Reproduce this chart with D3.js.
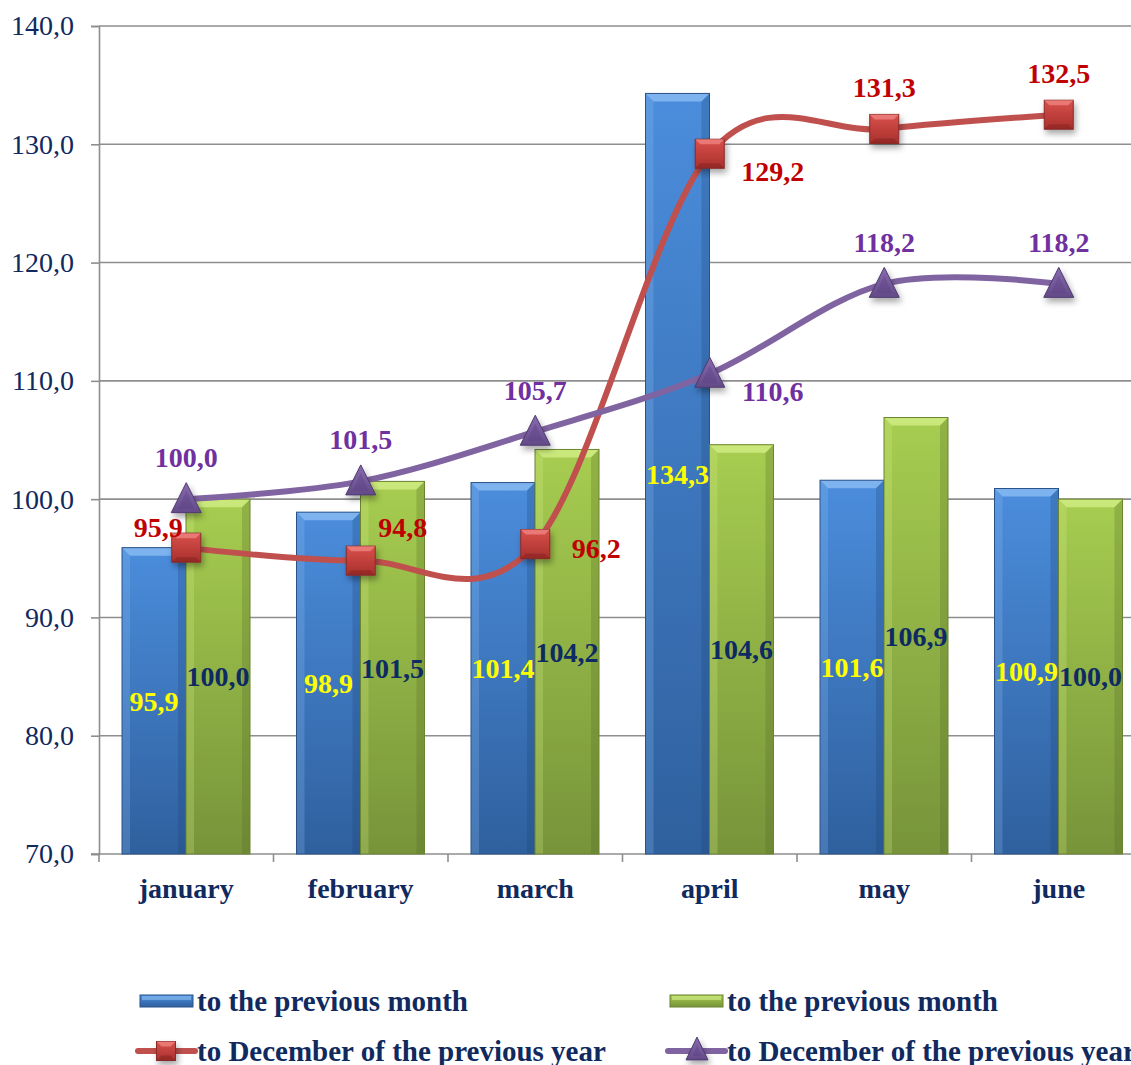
<!DOCTYPE html>
<html>
<head>
<meta charset="utf-8">
<script src="https://cdn.jsdelivr.net/npm/d3@7"></script>
<style>
  html, body { margin: 0; padding: 0; background: #fff; overflow: hidden; }
  svg { display: block; font-family: "Liberation Serif", "Times New Roman", serif; }
</style>
</head>
<body>
<div id="chart"></div>
<script>
// data
const months = ["january", "february", "march", "april", "may", "june"]
const blueMonth = [95.9, 98.9, 101.4, 134.3, 101.6, 100.9]
const greenMonth = [100.0, 101.5, 104.2, 104.6, 106.9, 100.0]
const redDec = [95.9, 94.8, 96.2, 129.2, 131.3, 132.5]
const purpleDec = [100.0, 101.5, 105.7, 110.6, 118.2, 118.2]
const yTicks = [70, 80, 90, 100, 110, 120, 130, 140]
const legendNames = ["to the previous month", "to the previous month",
    "to December of the previous year", "to December of the previous year"]
// where each line label sits relative to its marker
const redLabelPos = ["upleft", "upright", "right", "rightdown", "above", "above"]
const purpleLabelPos = ["above", "above", "above", "rightdown", "above", "above"]

const W = 1131, H = 1065
const navy = "#10295e"
const fmt = v => d3.format(".1f")(v).replace(".", ",")

const svg = d3.select("#chart").append("svg")
    .attr("width", W)
    .attr("height", H)

const defs = svg.append("defs")
const shadow = defs.append("filter").attr("id", "shadow")
    .attr("x", "-50%").attr("y", "-50%").attr("width", "200%").attr("height", "200%")
shadow.append("feDropShadow")
    .attr("dx", 2).attr("dy", 4).attr("stdDeviation", 3)
    .attr("flood-color", "#000").attr("flood-opacity", 0.35)

function vGrad(id, top, bottom) {
    const g = defs.append("linearGradient").attr("id", id)
        .attr("x1", 0).attr("y1", 0).attr("x2", 0).attr("y2", 1)
    g.append("stop").attr("offset", "0%").attr("stop-color", top)
    g.append("stop").attr("offset", "100%").attr("stop-color", bottom)
}
vGrad("gBlue", "#4b8ddc", "#2f609e")
vGrad("gGreen", "#a7cd50", "#77943a")
vGrad("gRed", "#d9504c", "#a8302d")
vGrad("gPurple", "#8a6bb0", "#634a88")

const x0 = d3.scaleBand().domain(months).range([99, 1146])
const x1 = d3.scaleBand().domain(["blue", "green"]).range([23, x0.bandwidth() - 23.5])
const y = d3.scaleLinear().domain([70, 140]).range([854, 26])

// gridlines
svg.append("g")
    .selectAll("line")
    .data(yTicks.slice(1))
    .enter()
    .append("line")
    .attr("x1", 99).attr("x2", W)
    .attr("y1", d => y(d)).attr("y2", d => y(d))
    .attr("stroke", "#8e8e8e").attr("stroke-width", 1.6)

// y axis
const yAxis = svg.append("g")
    .attr("transform", "translate(99,0)")
    .call(d3.axisLeft(y).tickValues(yTicks).tickSize(8).tickPadding(17).tickFormat(fmt))
yAxis.select(".domain").attr("stroke", "#8e8e8e").attr("stroke-width", 1.6)
yAxis.selectAll(".tick line").attr("stroke", "#8e8e8e").attr("stroke-width", 1.6)
yAxis.selectAll("text")
    .attr("fill", navy)
    .attr("font-size", 28)
    .attr("font-family", "Liberation Serif")

// x axis
const xAxis = svg.append("g")
    .attr("transform", "translate(0,854)")
xAxis.append("line")
    .attr("x1", 91).attr("x2", W)
    .attr("stroke", "#8e8e8e").attr("stroke-width", 1.6)
xAxis.selectAll(".sep")
    .data(months)
    .enter()
    .append("line")
    .attr("x1", d => x0(d)).attr("x2", d => x0(d))
    .attr("y1", 0).attr("y2", 8)
    .attr("stroke", "#8e8e8e").attr("stroke-width", 1.6)
xAxis.selectAll(".cat")
    .data(months)
    .enter()
    .append("text")
    .attr("x", d => x0(d) + x0.bandwidth() / 2)
    .attr("y", 44)
    .attr("text-anchor", "middle")
    .attr("fill", navy)
    .attr("font-size", 28)
    .attr("font-weight", "bold")
    .text(d => d)

// beveled bar
function bevelBar(g, x, yTop, w, h, fill, light, dark, edge) {
    const b = 8
    g.append("rect")
        .attr("x", x).attr("y", yTop).attr("width", w).attr("height", h)
        .attr("fill", fill)
    g.append("path")
        .attr("d", `M${x},${yTop}L${x + w},${yTop}L${x + w - b},${yTop + b}L${x + b},${yTop + b}Z`)
        .attr("fill", light).attr("opacity", 0.75)
    g.append("path")
        .attr("d", `M${x},${yTop}L${x + b},${yTop + b}L${x + b},${yTop + h}L${x},${yTop + h}Z`)
        .attr("fill", light).attr("opacity", 0.25)
    g.append("path")
        .attr("d", `M${x + w},${yTop}L${x + w - b},${yTop + b}L${x + w - b},${yTop + h}L${x + w},${yTop + h}Z`)
        .attr("fill", dark).attr("opacity", 0.25)
    g.append("rect")
        .attr("x", x).attr("y", yTop).attr("width", w).attr("height", h)
        .attr("fill", "none").attr("stroke", edge).attr("stroke-width", 1)
}

const barSeries = [
    { key: "blue", values: blueMonth, fill: "url(#gBlue)", light: "#8fc0f5", dark: "#1d3f70", edge: "#2a5288", label: "#ffff00" },
    { key: "green", values: greenMonth, fill: "url(#gGreen)", light: "#d6f08a", dark: "#4f6523", edge: "#6a8431", label: "#0d2a63" }
]

const barsG = svg.append("g")
barSeries.forEach(s => {
    months.forEach((m, i) => {
        const bx = x0(m) + x1(s.key)
        const yTop = y(s.values[i])
        bevelBar(barsG, bx, yTop, x1.bandwidth(), y(70) - yTop, s.fill, s.light, s.dark, s.edge)
    })
})

// bar labels at bar middle
barSeries.forEach(s => {
    svg.append("g")
        .selectAll("text")
        .data(s.values)
        .enter()
        .append("text")
        .attr("x", (d, i) => x0(months[i]) + x1(s.key) + x1.bandwidth() / 2)
        .attr("y", d => y((d + 70) / 2))
        .attr("dy", "0.35em")
        .attr("text-anchor", "middle")
        .attr("fill", s.label)
        .attr("font-size", 28)
        .attr("font-weight", "bold")
        .text(d => fmt(d))
})

// lines
const cx = i => x0(months[i]) + x0.bandwidth() / 2
const line = d3.line()
    .x((d, i) => cx(i))
    .y(d => y(d))
    .curve(d3.curveCardinal.tension(0))

function square(g, x, yy, s, fill, edge) {
    const h = s / 2, b = 5
    const m = g.append("g").attr("transform", `translate(${x},${yy})`).attr("filter", "url(#shadow)")
    m.append("rect").attr("x", -h).attr("y", -h).attr("width", s).attr("height", s)
        .attr("fill", fill).attr("stroke", edge).attr("stroke-width", 1)
    m.append("path").attr("d", `M${-h},${-h}L${h},${-h}L${h - b},${-h + b}L${-h + b},${-h + b}Z`)
        .attr("fill", "#f28c88").attr("opacity", 0.7)
    m.append("path").attr("d", `M${-h},${h}L${h},${h}L${h - b},${h - b}L${-h + b},${h - b}Z`)
        .attr("fill", "#7a1f1d").attr("opacity", 0.4)
}

function triangle(g, x, yy, s, fill, edge) {
    const h = s * 0.9
    const m = g.append("g").attr("transform", `translate(${x},${yy})`).attr("filter", "url(#shadow)")
    m.append("path").attr("d", `M0,${-h / 2 - 3}L${s / 2},${h / 2}L${-s / 2},${h / 2}Z`)
        .attr("fill", fill).attr("stroke", edge).attr("stroke-width", 1)
    m.append("path").attr("d", `M0,${-h / 2 + 5}L${s / 2 - 7},${h / 2 - 4}L${-s / 2 + 7},${h / 2 - 4}Z`)
        .attr("fill", "#5a4080").attr("opacity", 0.35)
}

const offsets = {
    above: [0, -42],
    upleft: [-28, -20],
    upright: [42, -33],
    right: [61, 4],
    rightdown: [63, 17]
}

const lineSeries = [
    { values: redDec, color: "#c0504d", labelColor: "#c00000", pos: redLabelPos, marker: "square" },
    { values: purpleDec, color: "#8064a2", labelColor: "#7030a0", pos: purpleLabelPos, marker: "triangle" }
]

lineSeries.forEach(s => {
    svg.append("path")
        .datum(s.values)
        .attr("d", line)
        .attr("fill", "none")
        .attr("stroke", s.color)
        .attr("stroke-width", 6)
        .attr("stroke-linecap", "round")
})

lineSeries.forEach(s => {
    const g = svg.append("g")
    s.values.forEach((v, i) => {
        if (s.marker === "square") square(g, cx(i), y(v), 29, "url(#gRed)", "#8a2a28")
        else triangle(g, cx(i), y(v), 30, "url(#gPurple)", "#4e3a6e")
    })
    g.selectAll("text")
        .data(s.values)
        .enter()
        .append("text")
        .attr("x", (d, i) => cx(i) + offsets[s.pos[i]][0])
        .attr("y", (d, i) => y(d) + offsets[s.pos[i]][1])
        .attr("dy", "0.35em")
        .attr("text-anchor", "middle")
        .attr("fill", s.labelColor)
        .attr("font-size", 28)
        .attr("font-weight", "bold")
        .text(d => fmt(d))
})

// legend (bottom row is clipped by the page edge, as in the original)
const legend = svg.append("g")
const legendX = [140, 670]
const legendY = [1001, 1051]

legendNames.forEach((name, i) => {
    const col = i % 2, row = Math.floor(i / 2)
    const lx = legendX[col], ly = legendY[row]
    const g = legend.append("g")
    if (row === 0) {
        const s = barSeries[col]
        g.append("rect").attr("x", lx).attr("y", ly - 6).attr("width", 53).attr("height", 12)
            .attr("fill", s.fill).attr("stroke", s.edge).attr("stroke-width", 1)
        g.append("rect").attr("x", lx + 2).attr("y", ly - 5).attr("width", 49).attr("height", 4)
            .attr("fill", s.light).attr("opacity", 0.6)
    } else {
        const s = lineSeries[col]
        g.append("line").attr("x1", lx - 2).attr("x2", lx + 55).attr("y1", ly).attr("y2", ly)
            .attr("stroke", s.color).attr("stroke-width", 6).attr("stroke-linecap", "round")
        if (col === 0) square(g, lx + 26, ly, 19, "url(#gRed)", "#8a2a28")
        else triangle(g, lx + 27, ly - 1, 22, "url(#gPurple)", "#4e3a6e")
    }
    g.append("text")
        .attr("x", lx + 57)
        .attr("y", ly)
        .attr("dy", "0.35em")
        .attr("fill", navy)
        .attr("font-size", 29)
        .attr("font-weight", "bold")
        .text(name)
})
</script>
</body>
</html>
